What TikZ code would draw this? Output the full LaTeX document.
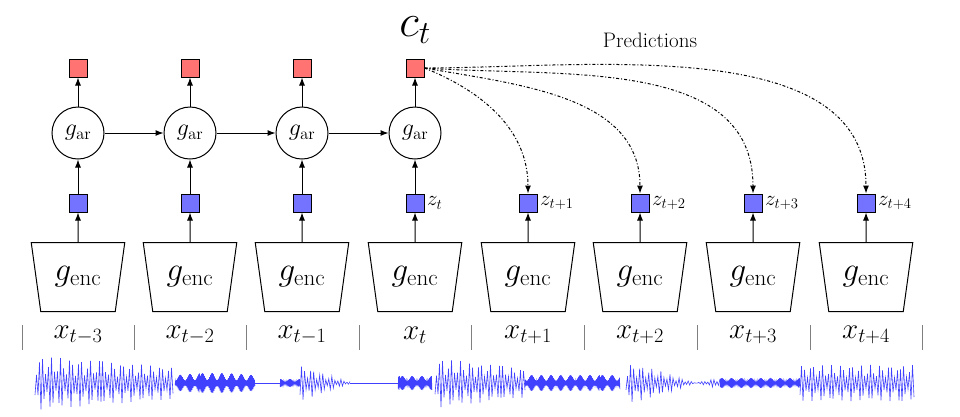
\documentclass[tikz,border=0pt]{standalone}
\usepackage{fix-cm}
\usetikzlibrary{arrows.meta,shapes.geometric}
\begin{document}
\begin{tikzpicture}[x=1pt,y=-1pt,line width=1pt,
  red/.style={draw,fill=red!55,minimum size=18pt,inner sep=0pt},
  blu/.style={draw,fill=blue!55,minimum size=18pt,inner sep=0pt},
  ar/.style={draw,circle,minimum size=52pt,inner sep=0pt,font=\fontsize{24}{26}\selectfont},
  enc/.style={draw,trapezium,shape border rotate=180,trapezium stretches=true,minimum width=94pt,minimum height=69pt,trapezium left angle=76,trapezium right angle=76,font=\fontsize{33}{36}\selectfont},
  arr/.style={-{Latex[length=8pt,width=6pt]},line width=1pt},
  pred/.style={arr,dash dot},
  wav/.style={blue!75,line width=0.6pt},
  zl/.style={font=\fontsize{21}{24}\selectfont,anchor=west,inner sep=2pt},
  lab/.style={font=\fontsize{29}{32}\selectfont}]
\useasboundingbox (0,0) rectangle (960,416);
\foreach \i/\x/\l in {0/78/{t-3},1/190/{t-2},2/302/{t-1},3/415/{t},4/528/{t+1},5/640/{t+2},6/753/{t+3},7/866/{t+4}}{
  \node[enc] (e\i) at (\x,277) {$g_{\mathrm{enc}}$};
  \node[blu] (z\i) at (\x,203) {};
  \node[lab] (x\i) at (\x,335) {$x_{\l}$};
  \draw[arr] (e\i) -- (z\i);
}
\foreach \i/\x in {0/78,1/190,2/302,3/415}{
  \node[ar] (g\i) at (\x,133) {$g_{\mathrm{ar}}$};
  \node[red] (c\i) at (\x,68) {};
  \draw[arr] (z\i) -- (g\i);
  \draw[arr] (g\i) -- (c\i);
}
\draw[arr] (g0) -- (g1); \draw[arr] (g1) -- (g2); \draw[arr] (g2) -- (g3);
\node[zl] (zl3) at (z3.east) {$z_{t}$};
\node[zl] (zl4) at (z4.east) {$z_{t+1}$};
\node[zl] (zl5) at (z5.east) {$z_{t+2}$};
\node[zl] (zl6) at (z6.east) {$z_{t+3}$};
\node[zl] (zl7) at (z7.east) {$z_{t+4}$};
\node[font=\fontsize{46}{48}\selectfont] (ct) at (415,30) {$c_t$};
\node[font=\fontsize{21}{24}\selectfont] (pl) at (650,40) {Predictions};
\draw[pred] (c3.east) to[out=-22,in=90] (z4.north);
\draw[pred] (c3.east) to[out=-10,in=90] (z5.north);
\draw[pred] (c3.east) to[out=-4,in=90] (z6.north);
\draw[pred] (c3.east) to[out=0,in=90,looseness=0.9] (z7.north);
\foreach \x in {22,134,246,359,471,584,697,810,922}
  \draw[gray,line width=1pt] (\x,325) -- (\x,350);
% waveform
\def\md#1{(0.65+0.35*sin(mod(#1,100)*37))}
\draw[wav] plot[domain=35:173,samples=93] (\x,{383+(27-0.08*(\x-35))*\md{\x}*cos(mod(\x-35,30)*120)});
\draw[wav,line width=0.5pt] plot[domain=175:255,samples=161] (\x,{383+(10-0.0015*(\x-215)^2)*\md{\x}*cos(mod(\x-175,30)*360)});
\draw[wav] (255,383) -- (280,383);
\draw[wav,line width=0.5pt] plot[domain=280:300,samples=41] (\x,{383+4*\md{\x}*cos(mod(\x-280,30)*360)});
\draw[wav] plot[domain=300:350,samples=34] (\x,{383+(18-0.3*(\x-300))*\md{\x}*cos(mod(\x-300,30)*120)});
\draw[wav] (350,383) -- (398,383);
\draw[wav,line width=0.5pt] plot[domain=398:432,samples=69] (\x,{383+7*\md{\x}*cos(mod(\x-398,30)*360)});
\draw[wav] plot[domain=435:525,samples=61] (\x,{383+(25-0.12*(\x-435))*\md{\x}*cos(mod(\x-435,30)*120)});
\draw[wav,line width=0.5pt] plot[domain=525:620,samples=191] (\x,{383+8*\md{\x}*cos(mod(\x-525,30)*360)});
\draw[wav] plot[domain=626:720,samples=63] (\x,{383+(20-0.1*(\x-626))*\md{\x}*cos(mod(\x-626,30)*120)});
\draw[wav,line width=0.5pt] plot[domain=720:800,samples=161] (\x,{383+5*\md{\x}*cos(mod(\x-720,30)*360)});
\draw[wav] plot[domain=800:914,samples=77] (\x,{383+18*\md{\x}*cos(mod(\x-800,30)*120)});
\end{tikzpicture}
\end{document}
